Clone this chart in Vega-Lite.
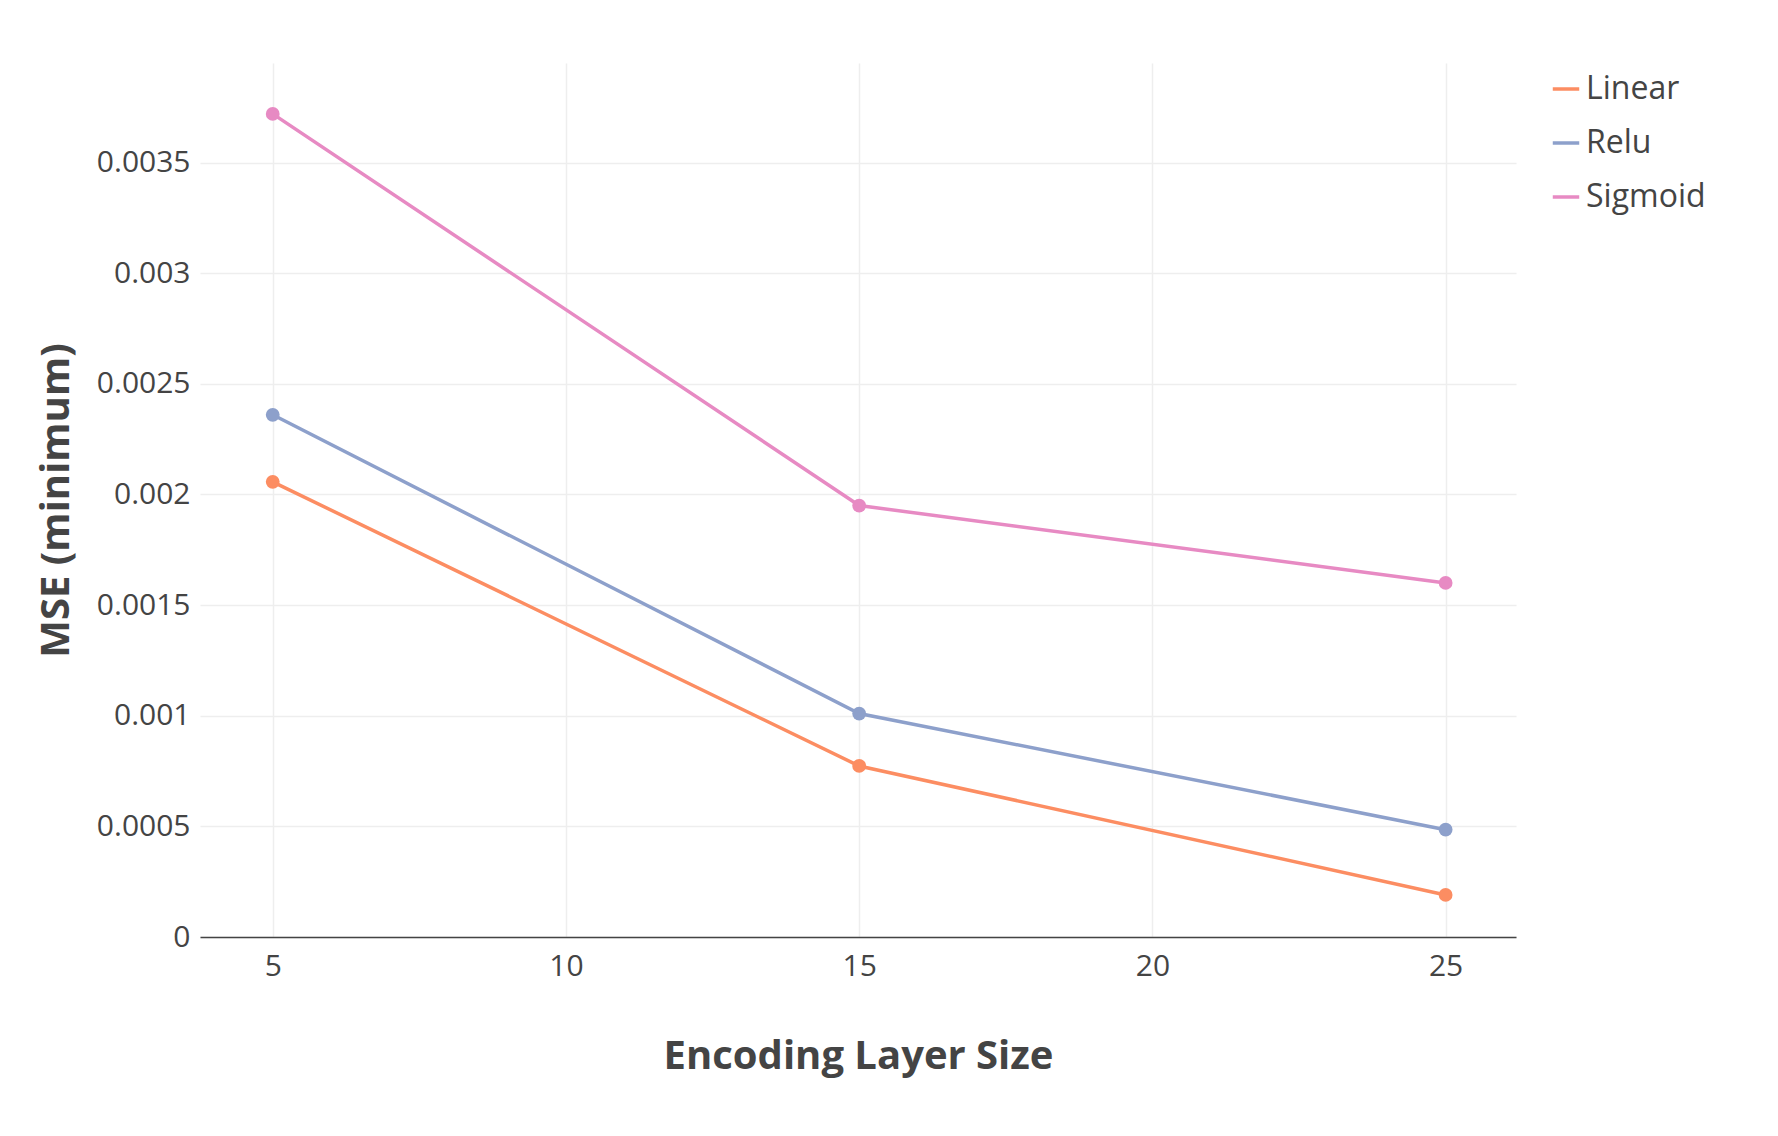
{
  "$schema": "https://vega.github.io/schema/vega-lite/v6.json",
  "width": 1316,
  "height": 874,
  "autosize": "none",
  "padding": {"left": 200, "top": 63, "right": 262, "bottom": 199},
  "background": "white",
  "data": {
    "values": [
      {"size": 5, "mse": 0.002057, "act": "Linear"},
      {"size": 15, "mse": 0.000773, "act": "Linear"},
      {"size": 25, "mse": 0.00019, "act": "Linear"},
      {"size": 5, "mse": 0.00236, "act": "Relu"},
      {"size": 15, "mse": 0.00101, "act": "Relu"},
      {"size": 25, "mse": 0.000485, "act": "Relu"},
      {"size": 5, "mse": 0.00372, "act": "Sigmoid"},
      {"size": 15, "mse": 0.00195, "act": "Sigmoid"},
      {"size": 25, "mse": 0.0016, "act": "Sigmoid"}
    ]
  },
  "mark": {"type": "line", "point": {"size": 190, "filled": true, "opacity": 1}, "strokeWidth": 3.5},
  "encoding": {
    "x": {
      "field": "size", "type": "quantitative", "title": "Encoding Layer Size",
      "scale": {"domain": [3.76, 26.2], "nice": false, "zero": false},
      "axis": {"values": [5, 10, 15, 20, 25], "titlePadding": 55, "labelPadding": 14}
    },
    "y": {
      "field": "mse", "type": "quantitative", "title": "MSE (minimum)",
      "scale": {"domain": [0, 0.00395], "nice": false},
      "axis": {"values": [0, 0.0005, 0.001, 0.0015, 0.002, 0.0025, 0.003, 0.0035], "format": "~g", "domain": false, "titlePadding": 20, "labelPadding": 10}
    },
    "color": {
      "field": "act", "type": "nominal", "title": null,
      "scale": {"domain": ["Linear", "Relu", "Sigmoid"], "range": ["#fc8d62", "#8da0cb", "#e78ac3"]},
      "legend": {"orient": "none", "legendX": 1350, "legendY": 10, "labelFontSize": 32, "symbolSize": 700, "symbolStrokeWidth": 3.5, "symbolType": "stroke", "rowPadding": 22, "labelColor": "#444"}
    }
  },
  "config": {
    "font": "Open Sans",
    "view": {"stroke": null},
    "axis": {
      "labelFontSize": 30, "labelColor": "#444", "titleFontSize": 40, "titleFontWeight": "bold", "titleColor": "#444",
      "gridColor": "#eeeeee", "gridWidth": 1.5, "ticks": false, "domainColor": "#444", "domainWidth": 1.5
    }
  }
}
